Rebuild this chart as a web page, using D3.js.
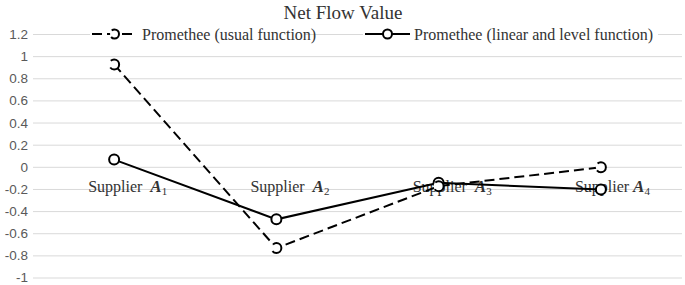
<!DOCTYPE html>
<html>
<head>
<meta charset="utf-8">
<script src="https://cdn.jsdelivr.net/npm/d3@7"></script>
<style>
  body { margin: 0; background: #fff; }
  svg { display: block; }
</style>
</head>
<body>
<script>
// data
var categories = ["1", "2", "3", "4"];
var usualValues = [0.93, -0.73, -0.17, 0.0];
var linearValues = [0.07, -0.47, -0.14, -0.20];
var seriesNames = ["Promethee (usual function)", "Promethee (linear and level function)"];
var yTicks = [1.2, 1, 0.8, 0.6, 0.4, 0.2, 0, -0.2, -0.4, -0.6, -0.8, -1];

var W = 685, H = 285;
var margin = { top: 35, right: 3, bottom: 7, left: 33 };

var svg = d3.select("body").append("svg")
  .attr("width", W)
  .attr("height", H);

var x = d3.scaleBand()
  .domain(categories)
  .range([margin.left, W - margin.right]);

var y = d3.scaleLinear()
  .domain([-1, 1.2])
  .range([278, 34.5]);

// gridlines
svg.append("g")
  .selectAll("line")
  .data(yTicks)
  .enter().append("line")
  .attr("x1", margin.left)
  .attr("x2", W - margin.right)
  .attr("y1", function (d) { return y(d); })
  .attr("y2", function (d) { return y(d); })
  .style("stroke", "#d9d9d9")
  .style("stroke-width", 1);

// y tick labels
svg.append("g")
  .selectAll("text")
  .data(yTicks)
  .enter().append("text")
  .attr("x", 28)
  .attr("y", function (d) { return y(d); })
  .attr("dy", "0.33em")
  .style("text-anchor", "end")
  .style("font-family", "'Liberation Sans Narrow', 'Liberation Sans', sans-serif")
  .style("font-size", "13.5px")
  .style("fill", "#595959")
  .text(function (d) { return d; });

// title
svg.append("text")
  .attr("x", 343)
  .attr("y", 19)
  .style("text-anchor", "middle")
  .style("font-family", "'Liberation Serif', serif")
  .style("font-size", "19px")
  .style("fill", "#333")
  .text("Net Flow Value");

// category labels, sitting just under the zero line
var cat = svg.append("g")
  .selectAll("text")
  .data(categories)
  .enter().append("text")
  .attr("x", function (d) { return x(d) + x.bandwidth() / 2 - 26; })
  .attr("y", 192)
  .style("font-family", "'Liberation Serif', serif")
  .style("font-size", "16px")
  .style("fill", "#333");

cat.append("tspan").text(function (d) { return d == "4" ? "Supplier\u00a0" : "Supplier\u00a0\u00a0"; });
cat.append("tspan")
  .style("font-style", "italic")
  .style("font-weight", "bold")
  .style("font-size", "17px")
  .text("A");
cat.append("tspan")
  .attr("dy", 3)
  .style("font-size", "11px")
  .text(function (d) { return d; });

var line = d3.line()
  .x(function (d, i) { return x(categories[i]) + x.bandwidth() / 2; })
  .y(function (d) { return y(d); });

// dashed markers get one gap on the left side, like the original
function drawSeries(values, dash, markDash, markOff) {
  svg.append("path")
    .datum(values)
    .attr("d", line)
    .style("fill", "none")
    .style("stroke", "#000")
    .style("stroke-width", 2)
    .style("stroke-dasharray", dash);

  svg.append("g")
    .selectAll("circle")
    .data(values)
    .enter().append("circle")
    .attr("cx", function (d, i) { return x(categories[i]) + x.bandwidth() / 2; })
    .attr("cy", function (d) { return y(d); })
    .attr("r", 5)
    .style("fill", "#fff")
    .style("stroke", "#000")
    .style("stroke-width", 2)
    .style("stroke-dasharray", markDash)
    .style("stroke-dashoffset", markOff);
}

drawSeries(linearValues, null, null, 0);
drawSeries(usualValues, "10,5", "24,7.4", 12);

// legend
var legend = [
  { name: seriesNames[0], dash: "10,5", markDash: "21.2,7.1", markOff: 10.6, x1: 92, x2: 137, tx: 142 },
  { name: seriesNames[1], dash: null, markDash: null, markOff: 0, x1: 365, x2: 410, tx: 414 }
];

var lg = svg.append("g")
  .selectAll("g")
  .data(legend)
  .enter().append("g");

lg.append("rect")
  .attr("x", function (d) { return d.x1 - 2; })
  .attr("y", 24)
  .attr("width", function (d, i) { return i == 0 ? 215 : 295; })
  .attr("height", 18)
  .style("fill", "#fff");

lg.append("line")
  .attr("x1", function (d) { return d.x1; })
  .attr("x2", function (d) { return d.x2; })
  .attr("y1", 34)
  .attr("y2", 34)
  .style("stroke", "#000")
  .style("stroke-width", 2)
  .style("stroke-dasharray", function (d) { return d.dash; });

lg.append("circle")
  .attr("cx", function (d) { return (d.x1 + d.x2) / 2; })
  .attr("cy", 34)
  .attr("r", 4.5)
  .style("fill", "#fff")
  .style("stroke", "#000")
  .style("stroke-width", 2)
  .style("stroke-dasharray", function (d) { return d.markDash; })
  .style("stroke-dashoffset", function (d) { return d.markOff; });

lg.append("text")
  .attr("x", function (d) { return d.tx; })
  .attr("y", 34)
  .attr("dy", "0.35em")
  .style("font-family", "'Liberation Serif', serif")
  .style("font-size", "16px")
  .style("fill", "#333")
  .text(function (d) { return d.name; });
</script>
</body>
</html>
